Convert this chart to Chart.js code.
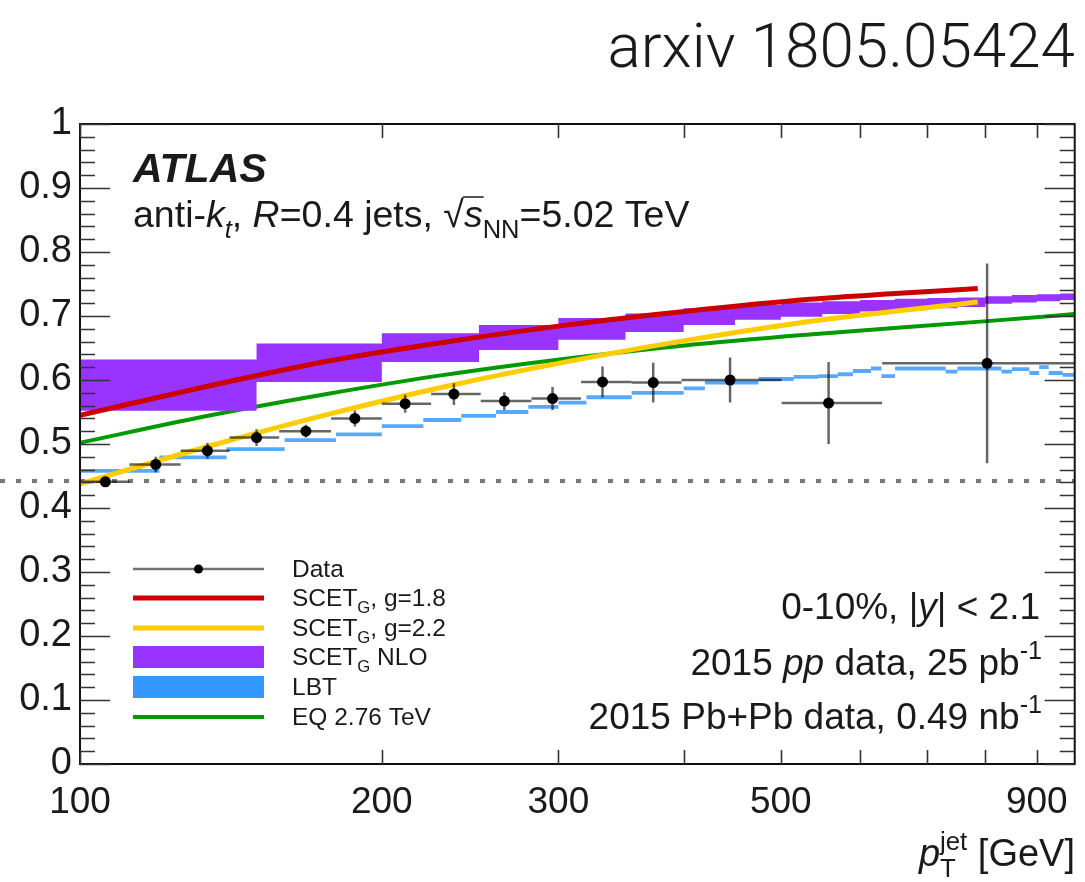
<!DOCTYPE html>
<html>
<head>
<meta charset="utf-8">
<script src="https://cdn.jsdelivr.net/npm/chart.js@4.4.1/dist/chart.umd.min.js"></script>
<style>
html,body{margin:0;padding:0;background:#fff;}
canvas{display:block;}
</style>
</head>
<body>
<canvas id="c" width="1085" height="882"></canvas>
<script>
// measured data, bins in pT
const dataLow  = [100,112,126,141,158,178,200,224,251,282,316,355,398,501,631];
const dataHigh = [112,126,141,158,178,200,224,251,282,316,355,398,501,631,1000];
const dataPt   = [106,119,134,150,168,188,211,236,265,296,332,373,445,558,803];
const dataVal  = [0.441,0.468,0.4895,0.510,0.520,0.540,0.563,0.578,0.567,0.571,0.597,0.596,0.600,0.564,0.626];
const dataErr  = [0.006,0.012,0.012,0.013,0.010,0.0125,0.014,0.017,0.014,0.018,0.024,0.031,0.035,0.064,0.156];

// SCET_G NLO band
const nloEdges = [100,150,200,250,300,350,400,450,500,550,600,650,700,750,800,850,900,950,1000];
const nloLow   = [0.552,0.597,0.628,0.647,0.663,0.675,0.686,0.694,0.699,0.703,0.707,0.709,0.712,0.714,0.719,0.721,0.723,0.725];
const nloHigh  = [0.632,0.657,0.673,0.686,0.697,0.704,0.712,0.717,0.721,0.723,0.725,0.727,0.728,0.729,0.731,0.733,0.734,0.735];

// LBT
const lbtEdges = [100,120,140,160,180,200,220,240,260,280,300,320,355,400,420,475,515,545,570,590,615,630,650,730,750,830,850,885,905,925,955,1000];
const lbtVal   = [0.458,0.479,0.492,0.506,0.515,0.528,0.5375,0.544,0.550,0.558,0.5646,0.573,0.580,0.587,0.596,0.6016,0.605,0.606,0.609,0.614,0.618,0.606,0.618,0.613,0.618,0.613,0.617,0.611,0.620,0.611,0.608];
const lbtHalf  = 0.003;

// SCET_G curves and EQ
const redPt    = [100,133,177.5,231,308,401,534,650,786];
const redVal   = [0.545,0.589,0.630,0.659,0.6865,0.707,0.726,0.735,0.743];
const yellowPt = [100,133,177.5,231,308,401,534,786];
const yellowVal= [0.4375,0.4945,0.547,0.5895,0.6295,0.6615,0.6915,0.722];
const greenPt  = [100,133,177.5,231,308,401,534,803,982];
const greenVal = [0.502,0.543,0.579,0.608,0.634,0.654,0.671,0.692,0.703];

const yTicks  = [0,0.1,0.2,0.3,0.4,0.5,0.6,0.7,0.8,0.9,1];
const yMinor  = 0.02;
const xTicks  = [100,200,300,400,500,600,700,800,900];
const xLabels = [100,200,300,500,900];
const refLine = 0.442;

const FONT = '"Liberation Sans", Arial, sans-serif';
const INK = '#1a1a1a';
const PURPLE = '#9933ff';
const BLUE = '#3399ff';

function pts(xs, ys) { return xs.map((x, i) => ({x: x, y: ys[i]})); }
function steps(edges, vals, shift) {
  return edges.map((e, i) => ({x: e, y: vals[Math.min(i, vals.length - 1)] + (shift || 0)}));
}

function fontOf(p, size) {
  let fs = (p.sub || p.sup) ? size * 0.68 : size;
  return (p.i ? 'italic ' : '') + (p.b ? 'bold ' : '') + fs + 'px ' + FONT;
}
function drawRich(ctx, parts, x, y, size, align) {
  let w = 0;
  parts.forEach(p => { ctx.font = fontOf(p, size); if (!p.keep) w += ctx.measureText(p.t).width; });
  if (align === 'right') x -= w;
  ctx.textAlign = 'left';
  ctx.textBaseline = 'alphabetic';
  parts.forEach(p => {
    ctx.font = fontOf(p, size);
    let dy = p.sub ? size * 0.3 : (p.sup ? -size * 0.42 : 0);
    ctx.fillText(p.t, x, y + dy);
    let tw = ctx.measureText(p.t).width;
    if (p.over) {
      ctx.save();
      ctx.lineWidth = 1.5;
      ctx.strokeStyle = INK;
      ctx.beginPath();
      ctx.moveTo(x - 1, y - size * 0.8);
      ctx.lineTo(x + tw + 1, y - size * 0.8);
      ctx.stroke();
      ctx.restore();
    }
    if (!p.keep) x += tw;
  });
}

const atlasPlugin = {
  id: 'atlas',
  beforeDatasetsDraw(chart) {
    const ctx = chart.ctx, a = chart.chartArea, ys = chart.scales.y;
    let py = Math.round(ys.getPixelForValue(refLine));
    ctx.save();
    ctx.strokeStyle = '#777';
    ctx.lineWidth = 4;
    ctx.setLineDash([5, 11]);
    ctx.beginPath();
    ctx.moveTo(0, py);
    ctx.lineTo(a.right, py);
    ctx.stroke();
    ctx.restore();
  },
  beforeDatasetDraw(chart, args) {
    if (args.index !== 0) return;
    const ctx = chart.ctx, xs = chart.scales.x, ys = chart.scales.y, a = chart.chartArea;
    ctx.save();
    ctx.beginPath();
    ctx.rect(a.left, a.top, a.right - a.left, a.bottom - a.top);
    ctx.clip();
    ctx.strokeStyle = 'rgba(0,0,0,0.6)';
    ctx.lineWidth = 2.5;
    dataPt.forEach((x, i) => {
      let px = xs.getPixelForValue(x), py = ys.getPixelForValue(dataVal[i]);
      ctx.beginPath();
      ctx.moveTo(xs.getPixelForValue(dataLow[i]), py);
      ctx.lineTo(xs.getPixelForValue(dataHigh[i]), py);
      ctx.moveTo(px, ys.getPixelForValue(dataVal[i] - dataErr[i]));
      ctx.lineTo(px, ys.getPixelForValue(dataVal[i] + dataErr[i]));
      ctx.stroke();
    });
    ctx.restore();
  },
  afterDraw(chart) {
    const ctx = chart.ctx, a = chart.chartArea, xs = chart.scales.x, ys = chart.scales.y;
    ctx.save();
    // frame and ticks
    ctx.strokeStyle = '#111';
    ctx.lineWidth = 2;
    ctx.strokeRect(a.left, a.top, a.right - a.left, a.bottom - a.top);
    ctx.lineWidth = 1.6;
    ctx.strokeStyle = '#333';
    ctx.beginPath();
    for (let v = 0; v <= 1.0001; v += yMinor) {
      let py = Math.round(ys.getPixelForValue(v)) + 0.5;
      let major = Math.abs(v * 10 - Math.round(v * 10)) < 1e-6;
      let len = major ? 30 : 15;
      ctx.moveTo(a.left, py); ctx.lineTo(a.left + len, py);
      ctx.moveTo(a.right, py); ctx.lineTo(a.right - len, py);
    }
    xTicks.forEach(v => {
      let px = Math.round(xs.getPixelForValue(v)) + 0.5;
      ctx.moveTo(px, a.bottom); ctx.lineTo(px, a.bottom - 14);
      ctx.moveTo(px, a.top); ctx.lineTo(px, a.top + 14);
    });
    ctx.stroke();

    ctx.fillStyle = INK;
    // header
    ctx.font = '300 62px Roboto, "Open Sans", sans-serif';
    ctx.textAlign = 'right';
    ctx.textBaseline = 'alphabetic';
    ctx.fillText('arxiv 1805.05424', 1075, 67);

    drawRich(ctx, [{t: 'ATLAS', b: 1, i: 1}], 133, 182, 41);
    drawRich(ctx, [
      {t: 'anti-'}, {t: 'k', i: 1}, {t: 't', i: 1, sub: 1}, {t: ', '}, {t: 'R', i: 1},
      {t: '=0.4 jets, '}, {t: '\u221A'}, {t: 's', i: 1, over: 1}, {t: 'NN', sub: 1}, {t: '=5.02 TeV'}
    ], 133, 227, 37.5);

    drawRich(ctx, [{t: '0-10%, |'}, {t: 'y', i: 1}, {t: '| < 2.1'}], 1040, 619, 37, 'right');
    drawRich(ctx, [{t: '2015 '}, {t: 'pp', i: 1}, {t: ' data, 25 pb'}, {t: '-1', sup: 1}], 1042, 675, 37, 'right');
    drawRich(ctx, [{t: '2015 Pb+Pb data, 0.49 nb'}, {t: '-1', sup: 1}], 1042, 729, 37, 'right');

    // axis title
    drawRich(ctx, [{t: 'p', i: 1}, {t: 'T', sub: 1, keep: 1}, {t: 'jet', sup: 1}, {t: ' [GeV]'}], 1075, 866, 38, 'right');

    // legend
    const lx0 = 133, lx1 = 264, tx = 292;
    const rows = [569, 598, 628, 657, 687, 717];
    ctx.lineCap = 'butt';
    ctx.strokeStyle = 'rgba(0,0,0,0.55)';
    ctx.lineWidth = 2.5;
    ctx.beginPath(); ctx.moveTo(lx0, rows[0]); ctx.lineTo(lx1, rows[0]); ctx.stroke();
    ctx.fillStyle = '#000';
    ctx.beginPath(); ctx.arc((lx0 + lx1) / 2, rows[0], 4.5, 0, Math.PI * 2); ctx.fill();
    [['#cc0000', 5, rows[1]], ['#ffcc00', 5, rows[2]], ['#009900', 4, rows[5]]].forEach(r => {
      ctx.strokeStyle = r[0]; ctx.lineWidth = r[1];
      ctx.beginPath(); ctx.moveTo(lx0, r[2]); ctx.lineTo(lx1, r[2]); ctx.stroke();
    });
    ctx.fillStyle = PURPLE; ctx.fillRect(lx0, rows[3] - 11, lx1 - lx0, 22);
    ctx.fillStyle = BLUE; ctx.fillRect(lx0, rows[4] - 11, lx1 - lx0, 22);
    ctx.fillStyle = INK;
    const ls = 24.5;
    drawRich(ctx, [{t: 'Data'}], tx, rows[0] + 8, ls);
    drawRich(ctx, [{t: 'SCET'}, {t: 'G', sub: 1}, {t: ', g=1.8'}], tx, rows[1] + 8, ls);
    drawRich(ctx, [{t: 'SCET'}, {t: 'G', sub: 1}, {t: ', g=2.2'}], tx, rows[2] + 8, ls);
    drawRich(ctx, [{t: 'SCET'}, {t: 'G', sub: 1}, {t: ' NLO'}], tx, rows[3] + 8, ls);
    drawRich(ctx, [{t: 'LBT'}], tx, rows[4] + 8, ls);
    drawRich(ctx, [{t: 'EQ 2.76 TeV'}], tx, rows[5] + 8, ls);
    ctx.restore();
  }
};

const curve = (data, color, width, order) => ({
  data: data, borderColor: color, borderWidth: width, pointRadius: 0,
  cubicInterpolationMode: 'monotone', fill: false, order: order
});
const band = (data, color, order, fill) => ({
  data: data, borderColor: 'rgba(0,0,0,0)', borderWidth: 0, backgroundColor: color,
  pointRadius: 0, stepped: 'before', fill: fill, order: order
});

new Chart(document.getElementById('c'), {
  type: 'line',
  data: {
    datasets: [
      {data: pts(dataPt, dataVal), showLine: false, pointRadius: 5.5, pointBackgroundColor: '#000',
       pointBorderColor: '#000', pointBorderWidth: 0, order: 0},
      curve(pts(redPt, redVal), '#cc0000', 5, 1),
      curve(pts(yellowPt, yellowVal), '#ffcc00', 5, 2),
      band(steps(nloEdges, nloHigh), PURPLE, 3, '+1'),
      band(steps(nloEdges, nloLow), PURPLE, 3, false),
      curve(pts(greenPt, greenVal), '#009900', 4, 4),
      band(steps(lbtEdges, lbtVal, lbtHalf), '#55aaff', 5, '+1'),
      band(steps(lbtEdges, lbtVal, -lbtHalf), '#55aaff', 5, false)
    ]
  },
  options: {
    responsive: false,
    animation: false,
    devicePixelRatio: 1,
    layout: {padding: {top: 124, right: 10, left: 0, bottom: 0}},
    plugins: {legend: {display: false}, tooltip: {enabled: false}},
    scales: {
      x: {
        type: 'logarithmic', min: 100, max: 982,
        grid: {display: false, drawTicks: false}, border: {display: false},
        afterBuildTicks: s => { s.ticks = xTicks.map(v => ({value: v})); },
        afterFit: s => { s.height = 118; },
        ticks: {
          autoSkip: false, maxRotation: 0, padding: 17, color: INK,
          font: {family: FONT, size: 37},
          callback: v => xLabels.includes(v) ? String(v) : ''
        }
      },
      y: {
        min: 0, max: 1,
        grid: {display: false, drawTicks: false}, border: {display: false},
        afterBuildTicks: s => { s.ticks = yTicks.map(v => ({value: v})); },
        afterFit: s => { s.width = 80; },
        ticks: {
          padding: 8, color: INK, font: {family: FONT, size: 38},
          callback: v => String(+v.toFixed(1))
        }
      }
    }
  },
  plugins: [atlasPlugin]
});
</script>
</body>
</html>
